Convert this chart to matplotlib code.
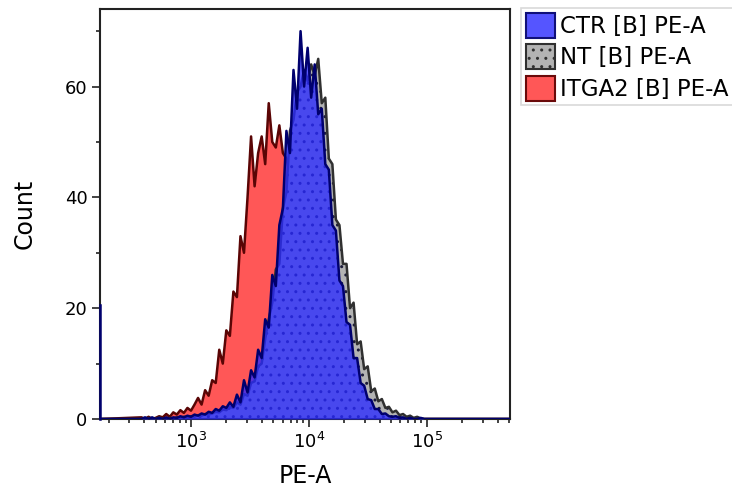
import numpy as np
import matplotlib
matplotlib.use("Agg")
import matplotlib.pyplot as plt
from matplotlib.patches import Patch

# shared log10 bin grid (PE-A)
log_start = 2.58
log_step = 0.03

ctr_counts = [0, 0.3, 0, 0.3, 0, 0.2, 0, 0.3, 0, 0.3,
              0.2, 0.5, 0.3, 0.6, 0.4, 0.8, 0.6, 1.0, 0.8, 1.3,
              1.1, 1.8, 1.5, 2.3, 2.0, 3.0, 2.2, 4.4, 3.0, 7.0,
              4.8, 8.8, 7.5, 12.5, 11, 18, 16.5, 26, 24, 35,
              38, 52, 48, 63, 56, 70, 60, 67, 58, 64,
              55, 56, 46, 45, 35, 34, 25, 24, 17.5, 17,
              11, 11, 6.5, 6, 3.6, 3.4, 1.8, 1.8, 0.9, 1.0,
              0.5, 0.4, 0.5, 0.2, 0.3, 0, 0.2, 0, 0, 0.2, 0]

nt_counts = [0, 0, 0.2, 0, 0, 0.3, 0, 0, 0.2, 0,
             0.3, 0.2, 0.4, 0.3, 0.5, 0.4, 0.7, 0.6, 0.9, 0.8,
             1.0, 1.3, 1.2, 1.7, 1.6, 2.2, 2.0, 3.0, 2.6, 4.5,
             4.2, 6.5, 6.8, 9.5, 10, 14.5, 18, 21, 27, 28,
             38, 41, 52, 54, 59, 60, 63, 61, 64, 62,
             65, 57, 58, 47, 46, 36, 35, 28, 28, 20,
             21, 13.5, 14, 9, 9.5, 5, 5.5, 3.2, 3.6, 2.0,
             2.2, 1.2, 1.5, 0.7, 0.9, 0.4, 0.6, 0.2, 0.4, 0.1, 0]

itga2_counts = [0.3, 0, 0.4, 0, 0.2, 0.5, 0.3, 0.9, 0.4, 1.2,
                0.8, 1.6, 1.1, 2.0, 1.5, 2.6, 3.8, 2.6, 5.2, 4.2,
                7.0, 6.5, 12.5, 10, 16, 15, 23, 22, 33, 30,
                40, 51, 42, 48, 51, 46, 57, 50, 49, 53,
                48, 47, 44, 42, 39, 36, 33, 30, 27, 23,
                20, 17, 14, 12, 10, 8, 6.5, 5, 4, 3,
                2.2, 1.6, 1.1, 0.8, 0.5, 0.3, 0.2, 0, 0, 0,
                0, 0, 0, 0, 0, 0, 0, 0, 0, 0, 0]

# events piled up at the low end of the scale (CTR only visible)
ctr_edge_count = 20.5

labels = ["CTR [B] PE-A", "NT [B] PE-A", "ITGA2 [B] PE-A"]

x_min, x_max = 169, 5.1e5
y_max = 74

fig = plt.figure(figsize=(7.32, 4.94), dpi=100)
ax = fig.add_axes([100 / 732, 1 - 419 / 494, 410 / 732, 410 / 494])

centers = 10 ** (log_start + log_step * np.arange(len(ctr_counts)))
xs = np.concatenate([[x_min], centers, [x_max]])


def series(vals):
    return np.concatenate([[0], vals, [0]])


# red (ITGA2) at the back
ax.fill_between(xs, series(itga2_counts), color="#ff5757", linewidth=0, zorder=1)
ax.plot(xs, series(itga2_counts), color="#5a0505", linewidth=1.8, zorder=1.1)

# grey (NT) with dotted pattern
ax.fill_between(xs, series(nt_counts), facecolor="#b3b3b3", edgecolor="#1c1c3a",
                hatch="..", linewidth=0, zorder=2)
ax.plot(xs, series(nt_counts), color="#303030", linewidth=1.8, zorder=2.1)

# blue (CTR) on top, semi-transparent
ax.fill_between(xs, series(ctr_counts), color="#2a2aff", alpha=0.78, linewidth=0, zorder=3)
ax.plot(xs, series(ctr_counts), color="#00006e", linewidth=1.8, zorder=3.1)
ax.plot([x_min, x_min], [0, ctr_edge_count], color="#00006e", linewidth=1.8,
        zorder=5, clip_on=False)

ax.set_xscale("log")
ax.set_xlim(x_min, x_max)
ax.set_ylim(0, y_max)
ax.set_yticks([0, 20, 40, 60])
ax.set_yticks([10, 30, 50, 70], minor=True)
ax.xaxis.set_major_locator(matplotlib.ticker.LogLocator(base=10, numticks=10))
ax.xaxis.set_minor_locator(matplotlib.ticker.LogLocator(base=10, subs=np.arange(2, 10), numticks=20))
ax.xaxis.set_minor_formatter(matplotlib.ticker.NullFormatter())

ax.tick_params(which="major", length=6, width=1.2, labelsize=13, color="#222222", pad=3)
ax.tick_params(which="minor", length=3, width=1.2, color="#222222")
for s in ax.spines.values():
    s.set_linewidth(1.5)
    s.set_color("#222222")

ax.set_xlabel("PE-A", fontsize=17)
ax.set_ylabel("Count", fontsize=17)
ax.xaxis.set_label_coords(0.5, -0.11)
ax.yaxis.set_label_coords(-0.155, 0.5)

handles = [
    Patch(facecolor="#5555ff", edgecolor="#10107a", linewidth=1.5),
    Patch(facecolor="#b3b3b3", edgecolor="#303030", hatch="..", linewidth=1.5),
    Patch(facecolor="#ff5757", edgecolor="#6a0a0a", linewidth=1.5),
]
leg = fig.legend(handles, labels, loc="upper left", bbox_to_anchor=(521 / 732, 1 - 8 / 494),
                 fontsize=16.5, handlelength=1.3, handleheight=1.3, handletextpad=0.2,
                 labelspacing=0.28, borderpad=0.2, borderaxespad=0, fancybox=False,
                 frameon=True)
leg.get_frame().set_edgecolor("#d0d0d0")
leg.get_frame().set_linewidth(1.2)

fig.savefig("out.png", dpi=100)
